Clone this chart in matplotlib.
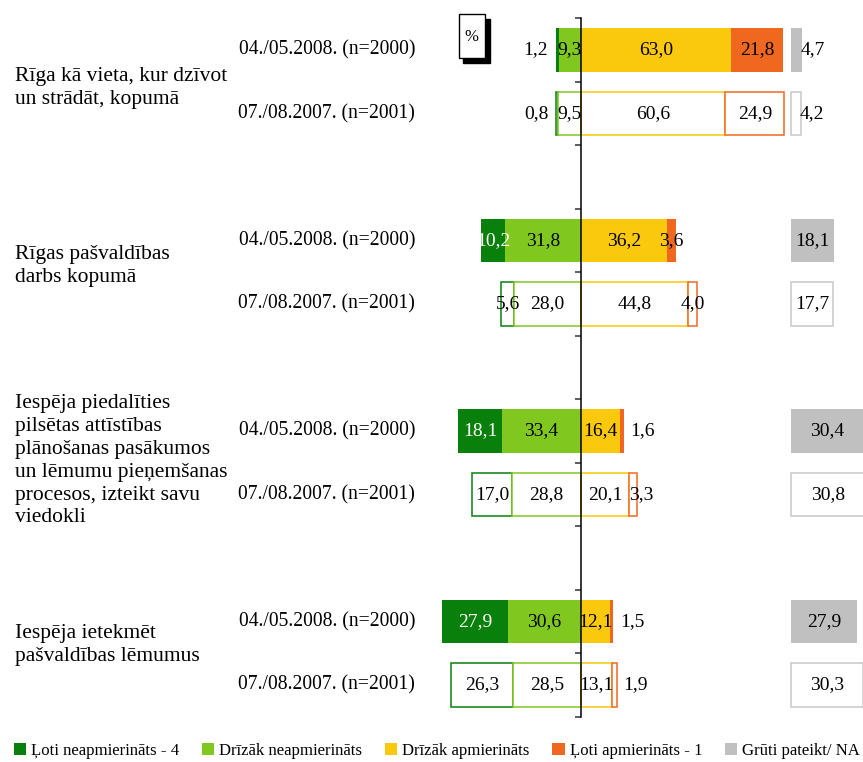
import matplotlib
matplotlib.use("Agg")
import matplotlib.pyplot as plt
from matplotlib.patches import Rectangle, Patch
from matplotlib.transforms import blended_transform_factory

plt.rcParams['font.family'] = ['Liberation Serif', 'DejaVu Serif']

# data
categories = [
    "Rīga kā vieta, kur dzīvot\nun strādāt, kopumā",
    "Rīgas pašvaldības\ndarbs kopumā",
    "Iespēja piedalīties\npilsētas attīstības\nplānošanas pasākumos\nun lēmumu pieņemšanas\nprocesos, izteikt savu\nviedokli",
    "Iespēja ietekmēt\npašvaldības lēmumus",
]
waves = ["04./05.2008. (n=2000)", "07./08.2007. (n=2001)"]

very_dis = {2008: [1.2, 10.2, 18.1, 27.9], 2007: [0.8, 5.6, 17.0, 26.3]}
rather_dis = {2008: [9.3, 31.8, 33.4, 30.6], 2007: [9.5, 28.0, 28.8, 28.5]}
rather_sat = {2008: [63.0, 36.2, 16.4, 12.1], 2007: [60.6, 44.8, 20.1, 13.1]}
very_sat = {2008: [21.8, 3.6, 1.6, 1.5], 2007: [24.9, 4.0, 3.3, 1.9]}
hard_na = {2008: [4.7, 18.1, 30.4, 27.9], 2007: [4.2, 17.7, 30.8, 30.3]}

legend_labels = ["Ļoti neapmierināts - 4", "Drīzāk neapmierināts",
                 "Drīzāk apmierināts", "Ļoti apmierināts - 1",
                 "Grūti pateikt/ NA"]

c_vd = "#0a800c"
c_rd = "#80c820"
c_rs = "#fac80c"
c_vs = "#f06820"
c_na = "#c0c0c0"
c_na_edge = "#c8c8c8"

W, H = 863, 762
fig = plt.figure(figsize=(W / 100, H / 100), dpi=100)
ax = fig.add_axes([0, 0, 1, 1])

px_per_unit = 2.38
center_px = 581
ax.set_xlim(-center_px / px_per_unit, (W - center_px) / px_per_unit)
slot_px = 63.5
first_px = 50
ax.set_ylim((H - first_px) / slot_px, -first_px / slot_px)

na_start = (791 - center_px) / px_per_unit
bh = 0.69
fs_val = 14
# vertical placement of category labels (in bar slots)
cat_y = [0.6, 3.4, 6.47, 9.37]


def fmt(v):
    return f"{v:.1f}".replace(".", ",")


tr = blended_transform_factory(fig.transFigure, ax.transData)

for i in range(len(categories)):
    for j, yr in enumerate([2008, 2007]):
        y = 3 * i + j
        vd = very_dis[yr][i]
        rd = rather_dis[yr][i]
        rs = rather_sat[yr][i]
        vs = very_sat[yr][i]
        na = hard_na[yr][i]
        segs = [(-rd - vd, vd, c_vd), (-rd, rd, c_rd), (0, rs, c_rs),
                (rs, vs, c_vs), (na_start, na, c_na)]
        for left, w, c in segs:
            if yr == 2008:
                ax.barh(y, w, left=left, height=bh, color=c, edgecolor="none")
            else:
                ec = c_na_edge if c == c_na else c
                ax.barh(y, w, left=left, height=bh, color="white",
                        edgecolor=ec, linewidth=1.1)

        # value labels
        if vd >= 2:
            ax.text(-rd - vd / 2, y, fmt(vd), ha="center", va="center",
                    fontsize=fs_val, color="white" if yr == 2008 else "black")
        else:
            ax.text(-rd - vd - 3.5, y, fmt(vd), ha="right", va="center",
                    fontsize=fs_val)
        ax.text(-rd / 2, y, fmt(rd), ha="center", va="center", fontsize=fs_val)
        ax.text(rs / 2, y, fmt(rs), ha="center", va="center", fontsize=fs_val)
        if vs >= 3.5:
            ax.text(rs + vs / 2, y, fmt(vs), ha="center", va="center",
                    fontsize=fs_val)
        elif vs >= 2:
            ax.text(rs + 0.3, y, fmt(vs), ha="left", va="center",
                    fontsize=fs_val)
        else:
            ax.text(rs + vs + 2.8, y, fmt(vs), ha="left", va="center",
                    fontsize=fs_val)
        if na >= 10:
            ax.text(na_start + na / 2, y, fmt(na), ha="center", va="center",
                    fontsize=fs_val)
        else:
            ax.text(na_start + na - 0.6, y, fmt(na), ha="left", va="center",
                    fontsize=fs_val)

        ax.text(415 / W, y, waves[j], transform=tr, ha="right", va="center",
                fontsize=14.1)

    ax.text(15 / W, cat_y[i], categories[i], transform=tr, ha="left",
            va="center", fontsize=15.5, linespacing=1.27)

# central axis
for s in ["top", "right", "bottom"]:
    ax.spines[s].set_visible(False)
ax.spines["left"].set_position(("data", 0))
ax.spines["left"].set_bounds(-0.5, 10.5)
ax.spines["left"].set_linewidth(1.1)
ax.set_yticks([k - 0.5 for k in range(12)])
ax.set_yticklabels([])
ax.tick_params(axis="y", direction="out", length=4, width=1.1, color="#333333")
ax.set_xticks([])
ax.patch.set_alpha(0)


# "%" box with shadow
def fbox(x0, y0, x1, y1, **kw):
    return Rectangle((x0 / W, 1 - y1 / H), (x1 - x0) / W, (y1 - y0) / H,
                     transform=fig.transFigure, **kw)


fig.patches.append(fbox(463, 19, 490, 62.5, facecolor="black", edgecolor="black"))
fig.patches.append(fbox(458.5, 14.5, 484.5, 57.5, facecolor="white",
                        edgecolor="black", linewidth=1))
fig.text(471 / W, 1 - 37 / H, "%", ha="center", va="center", fontsize=12)

handles = [Patch(facecolor=c, edgecolor="none")
           for c in [c_vd, c_rd, c_rs, c_vs, c_na]]
fig.legend(handles, legend_labels, loc="center left", ncol=5,
           bbox_to_anchor=(14 / W, 1 - 751 / H), frameon=False,
           fontsize=12.1, handlelength=0.72, handleheight=0.72,
           handletextpad=0.3, columnspacing=1.36, borderpad=0,
           borderaxespad=0)

fig.savefig("out.png", dpi=100)
